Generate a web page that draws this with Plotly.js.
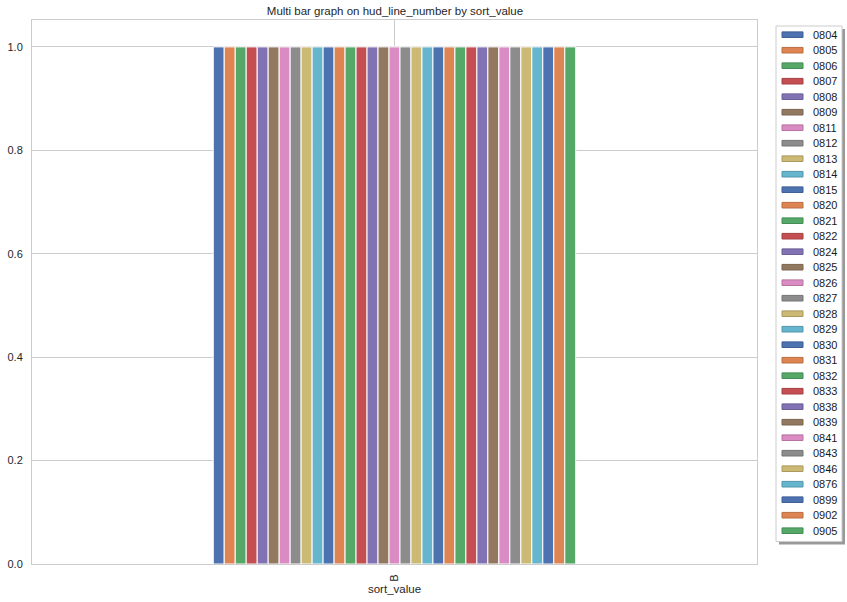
<!DOCTYPE html>
<html>
<head>
<meta charset="utf-8">
<script src="https://cdn.plot.ly/plotly-3.0.1.min.js"></script>
<style>html,body{margin:0;padding:0;background:#fff;}#chart{width:847px;height:602px;}</style>
</head>
<body>
<div id="chart"></div>
<script>
const categories = ['B'];
const seriesNames = ['0804','0805','0806','0807','0808','0809','0811','0812','0813','0814','0815','0820','0821','0822','0824','0825','0826','0827','0828','0829','0830','0831','0832','0833','0838','0839','0841','0843','0846','0876','0899','0902','0905'];
const seriesValues = [1,1,1,1,1,1,1,1,1,1,1,1,1,1,1,1,1,1,1,1,1,1,1,1,1,1,1,1,1,1,1,1,1];
const palette = ['#4C72B0','#DD8452','#55A868','#C44E52','#8172B3','#937860','#DA8BC3','#8C8C8C','#CCB974','#64B5CD'];
const edgePalette = ['#3F5F95','#BA6E42','#468C56','#A34145','#6B5F96','#7A6450','#B6739F','#757575','#AA9A60','#5396AB'];

const traces = seriesNames.map((name, i) => ({
  type: 'bar',
  name: name,
  x: categories,
  y: [seriesValues[i]],
  marker: {color: palette[i % palette.length], line: {color: '#ffffff', width: 1}},
  hoverinfo: 'name+y'
}));

// plot area geometry (pixels) used to place the hand-built legend
const W = 847, H = 602, L = 32, R = 90, T = 20, B = 38;
const PW = W - L - R, PH = H - T - B;
const px2x = p => (p - L) / PW;
const py2y = p => (H - B - p) / PH;

const font = {family: 'Liberation Sans, Arial, sans-serif', size: 11, color: '#262626'};

const shapes = [];
const annotations = [];
// shadow + legend frame
shapes.push({type: 'rect', xref: 'paper', yref: 'paper', layer: 'above',
  x0: px2x(779), x1: px2x(845), y0: py2y(544.5), y1: py2y(29), fillcolor: '#999999', line: {width: 0}});
shapes.push({type: 'rect', xref: 'paper', yref: 'paper', layer: 'above',
  x0: px2x(776), x1: px2x(842), y0: py2y(541.5), y1: py2y(26), fillcolor: '#ffffff', line: {color: '#cccccc', width: 1}});
const firstY = 34.7, step = 15.5;
seriesNames.forEach((name, i) => {
  const cy = firstY + i * step;
  shapes.push({type: 'rect', xref: 'paper', yref: 'paper', layer: 'above',
    x0: px2x(782), x1: px2x(803), y0: py2y(cy + 2.8), y1: py2y(cy - 2.8),
    fillcolor: palette[i % palette.length], line: {color: edgePalette[i % edgePalette.length], width: 1}});
  annotations.push({xref: 'paper', yref: 'paper', x: px2x(811), y: py2y(cy), xanchor: 'left', yanchor: 'middle',
    text: name, showarrow: false, font: {family: font.family, size: 11, color: '#1a1a1a'}});
});

const layout = {
  width: W, height: H,
  margin: {l: L, r: R, t: T, b: B, pad: 0},
  paper_bgcolor: '#ffffff', plot_bgcolor: '#ffffff',
  font: font,
  title: {text: 'Multi bar graph on hud_line_number by sort_value', x: (395) / W, xanchor: 'center', y: 1 - 11 / H, yanchor: 'middle', font: {family: font.family, size: 11.5, color: '#262626'}},
  barmode: 'group', bargap: 0.5, bargroupgap: 0,
  showlegend: false,
  xaxis: {
    type: 'category', range: [-0.5, 0.5],
    tickangle: -90, ticks: 'outside', ticklen: 5, tickcolor: 'rgba(0,0,0,0)', showgrid: true, gridcolor: '#cccccc', gridwidth: 1,
    showline: true, linecolor: '#cccccc', linewidth: 1, mirror: true,
    title: {text: 'sort_value', font: {size: 11.5}, standoff: 4},
    tickfont: {size: 11}, automargin: false
  },
  yaxis: {
    range: [0, 1.052], tickvals: [0, 0.2, 0.4, 0.6, 0.8, 1.0], ticktext: ['0.0','0.2','0.4','0.6','0.8','1.0'],
    ticks: 'outside', ticklen: 6, tickcolor: 'rgba(0,0,0,0)', showgrid: true, gridcolor: '#cccccc', gridwidth: 1, zeroline: false,
    showline: true, linecolor: '#cccccc', linewidth: 1, mirror: true,
    tickfont: {size: 11}, automargin: false
  },
  shapes: shapes,
  annotations: annotations
};

Plotly.newPlot('chart', traces, layout, {displayModeBar: false, staticPlot: true});
</script>
</body>
</html>
